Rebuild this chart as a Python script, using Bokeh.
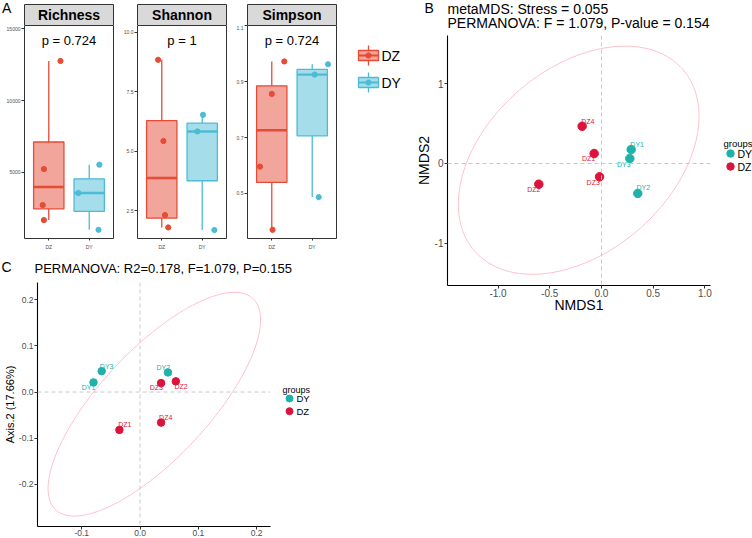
import numpy as np
from bokeh.plotting import figure
from bokeh.models import Range1d, FixedTicker, PrintfTickFormatter, Span, ColumnDataSource, Spacer
from bokeh.layouts import row, column
from bokeh.core.properties import value
from bokeh.embed import file_html
from bokeh.resources import INLINE

FONT = "Liberation Sans"

# ---------------- alpha diversity ----------------
groups = ["DZ", "DY"]
group_pos = [1, 2]
box_colors = ["#E64B35", "#4DBBD5"]

richness_dz = [12760, 5237, 2727, 1680]
richness_dy = [5537, 3563, 1004]
shannon_dz = [8.84, 5.43, 2.32, 1.80]
shannon_dy = [6.53, 5.83, 1.69]
simpson_dz = [0.972, 0.856, 0.596, 0.370]
simpson_dy = [0.962, 0.925, 0.487]

# horizontal jitter of the sample dots, in category units
richness_dz_jitter = [0.29, -0.12, -0.15, -0.12]
richness_dy_jitter = [0.25, -0.27, 0.23]
shannon_dz_jitter = [-0.09, 0.04, 0.08, 0.16]
shannon_dy_jitter = [0.02, -0.12, 0.30]
simpson_dz_jitter = [0.31, 0.0, -0.29, 0.02]
simpson_dy_jitter = [0.39, 0.06, 0.16]

alpha_titles = ["Richness", "Shannon", "Simpson"]
alpha_pvalues = ["p = 0.724", "p = 1", "p = 0.724"]
alpha_ylims = [(397, 15230), (1.335, 10.28), (0.339, 1.1005)]
alpha_ticks = [[5000, 10000, 15000], [2.5, 5.0, 7.5, 10.0], [0.5, 0.7, 0.9, 1.1]]
alpha_formats = ["%d", "%.1f", "%.1f"]

# ---------------- NMDS ----------------
sample_ids = ["DY1", "DY2", "DY3", "DZ1", "DZ2", "DZ3", "DZ4"]
sample_groups = ["DY", "DY", "DY", "DZ", "DZ", "DZ", "DZ"]
nmds1 = [0.287, 0.351, 0.274, -0.071, -0.606, -0.019, -0.187]
nmds2 = [0.175, -0.375, 0.0625, 0.125, -0.259, -0.167, 0.466]
nmds_label_dx = [6, 5.5, -6, -5.5, -5, -6.3, 5.6]
nmds_label_dy = [-5.5, -5.7, 6, 5, 5.3, 5.6, -5.3]
nmds_title = ["metaMDS: Stress = 0.055", "PERMANOVA: F = 1.079, P-value = 0.154"]

# ---------------- PCoA ----------------
pcoa1 = [-0.0798, 0.0479, -0.0658, -0.0354, 0.0614, 0.0361, 0.0361]
pcoa2 = [0.0209, 0.0425, 0.0453, -0.082, 0.0231, 0.0194, -0.0662]
pcoa_label_dx = [-5, -4.7, 5, 5.4, 5.3, -4.7, 4.6]
pcoa_label_dy = [5.3, -4.6, -4.3, -5.7, 5.3, 4.7, -5]
pcoa_title = "PERMANOVA: R2=0.178, F=1.079, P=0.155"
pcoa_ylabel = "Axis.2 (17.66%)"

ord_groups = ["DY", "DZ"]
ord_colors = {"DY": "#20B2AA", "DZ": "#DC143C"}
ellipse_color = "#FFC0CB"


def canvas(w, h):
    f = figure(width=w, height=h, x_range=Range1d(0, w), y_range=Range1d(h, 0),
               min_border=0, x_axis_location=None, y_axis_location=None,
               output_backend="svg", toolbar_location=None)
    f.outline_line_color = None
    f.grid.visible = False
    return f


def put_text(f, x, y, s, size, color="black", bold=False, align="left"):
    f.text(x=[x], y=[y], text=[s], text_font=value(FONT), text_font_size=size,
           text_font_style="bold" if bold else "normal", text_color=color,
           text_align=align, text_baseline="middle")


def style_axis(ax, size, tick_len=3, standoff=1):
    ax.major_label_text_font = FONT
    ax.major_label_text_font_size = size
    ax.major_label_text_color = "#4D4D4D"
    ax.minor_tick_line_color = None
    ax.major_tick_in = 0
    ax.major_tick_out = tick_len
    ax.major_tick_line_color = "#333333"
    ax.major_label_standoff = standoff
    ax.axis_label_text_font = FONT
    ax.axis_label_text_font_style = "normal"
    ax.axis_label_text_color = "black"


def box_stats(vals):
    v = np.sort(np.asarray(vals, float))
    q1, med, q3 = np.percentile(v, [25, 50, 75])
    iqr = q3 - q1
    lo = v[v >= q1 - 1.5 * iqr].min()
    hi = v[v <= q3 + 1.5 * iqr].max()
    return q1, med, q3, lo, hi


FRAME_W = 89
BOX_HALF = 0.375
PANEL_H = 231


def alpha_block(idx, dz, dy, dz_jit, dy_jit, left, right, letter=None):
    width = left + FRAME_W + right
    # facet strip
    strip = canvas(width, 25)
    strip.quad(left=[left], right=[left + FRAME_W], top=[4], bottom=[25],
               fill_color="#D9D9D9", line_color="#333333", line_width=1)
    put_text(strip, left + FRAME_W / 2, 14.5, alpha_titles[idx], "14px", bold=True, align="center")
    if letter:
        put_text(strip, 1.5, 7.5, letter, "14px")

    lo_y, hi_y = alpha_ylims[idx]
    p = figure(width=width, height=PANEL_H, x_range=Range1d(0.4, 2.6), y_range=Range1d(lo_y, hi_y),
               min_border_left=left, min_border_right=right, min_border_top=0, min_border_bottom=18,
               output_backend="svg", toolbar_location=None)
    p.grid.visible = False
    p.outline_line_color = "#333333"
    p.outline_line_width = 1

    stats = [box_stats(dz), box_stats(dy)]
    src = ColumnDataSource(dict(
        x=group_pos,
        left=[g - BOX_HALF for g in group_pos],
        right=[g + BOX_HALF for g in group_pos],
        q1=[s[0] for s in stats], med=[s[1] for s in stats], q3=[s[2] for s in stats],
        lo=[s[3] for s in stats], hi=[s[4] for s in stats],
        color=box_colors,
    ))
    p.segment(x0="x", x1="x", y0="q3", y1="hi", line_color="color", line_width=1.3, source=src)
    p.segment(x0="x", x1="x", y0="q1", y1="lo", line_color="color", line_width=1.3, source=src)
    p.quad(left="left", right="right", bottom="q1", top="q3", fill_color="color", fill_alpha=0.5,
           line_color="color", line_width=1.3, source=src)
    p.segment(x0="left", x1="right", y0="med", y1="med", line_color="color", line_width=2.4, source=src)

    for vals, jit, pos, col in ((dz, dz_jit, 1, box_colors[0]), (dy, dy_jit, 2, box_colors[1])):
        p.scatter(x=[pos + j for j in jit], y=vals, size=5.2, fill_color=col, line_color=col)

    p.text(x=[1.5], y=[hi_y - 0.0705 * (hi_y - lo_y)], text=[alpha_pvalues[idx]],
           text_font=value(FONT), text_font_size="13px", text_align="center",
           text_baseline="middle", text_color="black")

    xa = p.xaxis[0]
    xa.ticker = FixedTicker(ticks=group_pos)
    xa.major_label_overrides = {1: groups[0], 2: groups[1]}
    style_axis(xa, "5px", 2, 3)
    xa.axis_line_color = None

    ya = p.yaxis[0]
    ya.ticker = FixedTicker(ticks=alpha_ticks[idx])
    ya.formatter = PrintfTickFormatter(format=alpha_formats[idx])
    style_axis(ya, "5px", 3, 1)
    ya.axis_line_color = None
    return column(strip, column(p))


blockA1 = alpha_block(0, richness_dz, richness_dy, richness_dz_jitter, richness_dy_jitter, 24, 7, "A")
blockA2 = alpha_block(1, shannon_dz, shannon_dy, shannon_dz_jitter, shannon_dy_jitter, 17, 7)
blockA3 = alpha_block(2, simpson_dz, simpson_dy, simpson_dz_jitter, simpson_dy_jitter, 14, 10)

legA = canvas(64, 25 + PANEL_H)
for i, (g, c) in enumerate(zip(groups, box_colors)):
    cy = 55 + 27 * i
    legA.segment(x0=[22, 22], x1=[22, 22], y0=[cy - 10, cy + 5], y1=[cy - 5, cy + 10], line_color=c, line_width=1.3)
    legA.quad(left=[12], right=[32], top=[cy - 5], bottom=[cy + 5], fill_color=c, fill_alpha=0.5,
              line_color=c, line_width=1.3)
    legA.segment(x0=[12], x1=[32], y0=[cy], y1=[cy], line_color=c, line_width=2)
    legA.scatter(x=[22], y=[cy], size=5.2, fill_color=c, line_color=c)
    put_text(legA, 35, cy, g, "14px")

rowA = row(blockA1, blockA2, blockA3, legA)


def ellipse_xy(xs, ys, level=0.95, npts=200):
    xs = np.asarray(xs, float)
    ys = np.asarray(ys, float)
    n = len(xs)
    dfd = n - 1
    # F(2, dfd) quantile has a closed form
    fq = dfd / 2.0 * ((1 - level) ** (-2.0 / dfd) - 1)
    radius = np.sqrt(2 * fq)
    cov = np.cov(xs, ys)
    chol = np.linalg.cholesky(cov).T
    t = np.linspace(0, 2 * np.pi, npts)
    circ = np.column_stack([np.cos(t), np.sin(t)])
    pts = np.array([xs.mean(), ys.mean()]) + radius * circ @ chol
    return pts[:, 0], pts[:, 1]


def ordination(width, height, left, right, bottom, xr, yr, xs, ys, dxs, dys, xticks, yticks,
               tick_size, pt_size, xlabel, ylabel, label_size, x_standoff, xl_stand, yl_stand):
    p = figure(width=width, height=height, x_range=Range1d(*xr), y_range=Range1d(*yr),
               min_border_left=left, min_border_right=right, min_border_top=0, min_border_bottom=bottom,
               output_backend="svg", toolbar_location=None)
    p.grid.visible = False
    p.outline_line_color = None
    for dim in ("width", "height"):
        p.add_layout(Span(location=0, dimension=dim, line_color="#C8C8C8", line_dash="4 3", line_width=1))
    dz_idx = [i for i, g in enumerate(sample_groups) if g == "DZ"]
    ex, ey = ellipse_xy([xs[i] for i in dz_idx], [ys[i] for i in dz_idx])
    p.line(ex, ey, line_color=ellipse_color, line_width=1)
    src = ColumnDataSource(dict(x=xs, y=ys, label=sample_ids, dx=dxs, dy=dys,
                                color=[ord_colors[g] for g in sample_groups]))
    p.scatter(x="x", y="y", size=pt_size, fill_color="color", line_color="color", source=src)
    p.text(x="x", y="y", text="label", x_offset="dx", y_offset="dy", text_color="color",
           text_font=value(FONT), text_font_size="7px", text_align="center", text_baseline="middle",
           source=src)
    xa = p.xaxis[0]
    xa.ticker = FixedTicker(ticks=xticks)
    xa.formatter = PrintfTickFormatter(format="%.1f")
    style_axis(xa, tick_size, 3, x_standoff)
    xa.axis_line_color = "black"
    xa.axis_line_width = 1.1
    if xlabel:
        xa.axis_label = xlabel
        xa.axis_label_text_font_size = label_size
        xa.axis_label_standoff = xl_stand
    ya = p.yaxis[0]
    ya.ticker = FixedTicker(ticks=yticks)
    ya.formatter = PrintfTickFormatter(format="%.1f" if max(abs(t) for t in yticks) < 1 else "%d")
    style_axis(ya, tick_size, 3, 1)
    ya.axis_line_color = "black"
    ya.axis_line_width = 1.1
    ya.axis_label = ylabel
    ya.axis_label_text_font_size = label_size
    ya.axis_label_standoff = yl_stand
    return p


def group_legend(width, height, x0, y0, title_size, text_size, dot, gap1, gap2):
    f = canvas(width, height)
    put_text(f, x0, y0, "groups", title_size)
    for i, g in enumerate(ord_groups):
        cy = y0 + gap1 + gap2 * i
        f.scatter(x=[x0 + 7], y=[cy], size=dot, fill_color=ord_colors[g], line_color=ord_colors[g])
        put_text(f, x0 + 14, cy, g, text_size)
    return f


# ---- panel B ----
headB = canvas(342, 35)
put_text(headB, 14, 7.5, "B", "14px")
put_text(headB, 37, 8, nmds_title[0], "14px")
put_text(headB, 37, 22, nmds_title[1], "14px")
plotB = ordination(305, 295, 37, 5, 45, (-1.489, 1.054), (-1.529, 1.604), nmds1, nmds2,
                   nmds_label_dx, nmds_label_dy, [-1.0, -0.5, 0.0, 0.5, 1.0], [-1, 0, 1],
                   "10px", 8.5, "NMDS1", "NMDS2", "14px", 0, -3, 0)
legB = group_legend(37, 295, 8, 108, "9.5px", "10.5px", 7.5, 10, 13)
blockB = column(headB, row(column(plotB), column(legB)), Spacer(width=342, height=208))

# ---- panel C ----
HEAD_C = 538 - 25 - PANEL_H - 256
headC = canvas(410, HEAD_C)
put_text(headC, 1, HEAD_C - 15.3, "C", "14px")
put_text(headC, 34, HEAD_C - 14, pcoa_title, "13px")
plotC = ordination(278, 256, 33, 8, 11, (-0.1759, 0.2238), (-0.2913, 0.2373), pcoa1, pcoa2,
                   pcoa_label_dx, pcoa_label_dy, [-0.1, 0.0, 0.1, 0.2], [-0.2, -0.1, 0.0, 0.1, 0.2],
                   "8.5px", 7.5, None, pcoa_ylabel, "11px", 0, 0, 0)
legC = group_legend(132, 256, 4, 107, "9px", "9.5px", 7, 9, 12.7)
blockC = column(headC, row(column(plotC), column(legC)))

layout = row(column(rowA, blockC), blockB)

with open("out.html", "w") as fh:
    fh.write(file_html(layout, INLINE))
